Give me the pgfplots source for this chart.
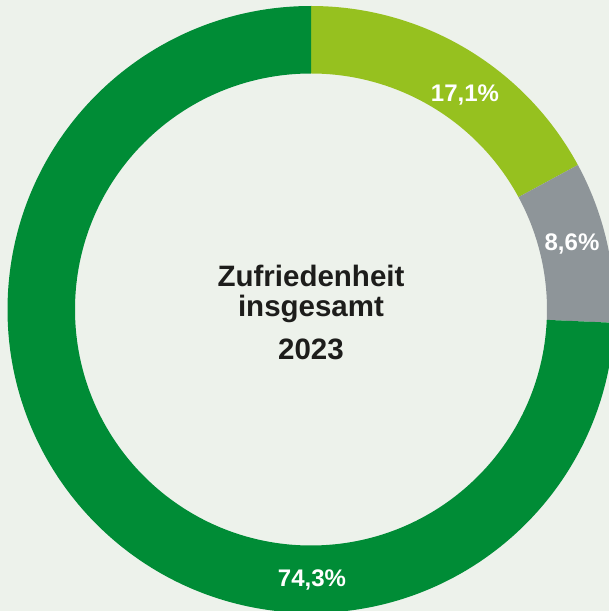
\documentclass[border=0pt]{standalone}
\usepackage{pgfplots}
\pgfplotsset{compat=1.18}
\usepackage{pgfplotstable}
\usepackage{fontspec}
\setmainfont{Liberation Sans}

\definecolor{bg}{HTML}{EDF2EB}
\definecolor{dgreen}{HTML}{008C36}
\definecolor{lime}{HTML}{96C11F}
\definecolor{grau}{HTML}{8E9599}
\definecolor{txt}{HTML}{1D1D1B}

% shares in percent, clockwise from 12 o'clock
\pgfplotstableread{
value
17.1
8.6
74.3
}\shares

\pgfplotstablegetelem{0}{value}\of\shares \let\va\pgfplotsretval
\pgfplotstablegetelem{1}{value}\of\shares \let\vb\pgfplotsretval
\pgfplotstablegetelem{2}{value}\of\shares \let\vc\pgfplotsretval
\pgfmathsetmacro\aA{90-3.6*\va}
\pgfmathsetmacro\aB{\aA-3.6*\vb}
\pgfmathsetmacro\aC{\aB-3.6*\vc}

\def\Ro{303.5pt}
\def\Ri{236pt}
\def\Rd{-67.5pt}

\begin{document}
\begin{tikzpicture}
\begin{axis}[
  width=609pt, height=611pt,
  scale only axis,
  xmin=0, xmax=609, ymin=0, ymax=611,
  hide axis,
  clip=true,
]
\fill[bg] (rel axis cs:0,0) rectangle (rel axis cs:1,1);
% ring segments
\fill[lime] (axis cs:311,301.5) ++(90:\Ro) arc[start angle=90, end angle=\aA, radius=\Ro]
  -- ++(\aA:\Rd) arc[start angle=\aA, end angle=90, radius=\Ri] -- cycle;
\fill[grau] (axis cs:311,301.5) ++(\aA:\Ro) arc[start angle=\aA, end angle=\aB, radius=\Ro]
  -- ++(\aB:\Rd) arc[start angle=\aB, end angle=\aA, radius=\Ri] -- cycle;
\fill[dgreen] (axis cs:311,301.5) ++(\aB:\Ro) arc[start angle=\aB, end angle=\aC, radius=\Ro]
  -- ++(\aC:\Rd) arc[start angle=\aC, end angle=\aB, radius=\Ri] -- cycle;

% value labels
\addplot[draw=none, mark=none, nodes near coords, point meta=explicit symbolic,
  every node near coord/.append style={anchor=base, text=white, inner sep=0pt,
    font=\fontsize{24}{28}\selectfont\bfseries}]
  table[meta=lab] {
  x y lab
  465 509 {17,1\%}
  572 360 {8,6\%}
  312 24.5 {74,3\%}
};

% centre title
\node[anchor=base, text=txt, inner sep=0pt, font=\fontsize{29.5}{34}\selectfont\bfseries]
  at (axis cs:311,324) {Zufriedenheit};
\node[anchor=base, text=txt, inner sep=0pt, font=\fontsize{29.5}{34}\selectfont\bfseries]
  at (axis cs:311,294) {insgesamt};
\node[anchor=base, text=txt, inner sep=0pt, font=\fontsize{29.5}{34}\selectfont\bfseries]
  at (axis cs:311,251.5) {2023};
\end{axis}
\pgfresetboundingbox
\useasboundingbox (current axis.south west) rectangle (current axis.north east);
\end{tikzpicture}
\end{document}
